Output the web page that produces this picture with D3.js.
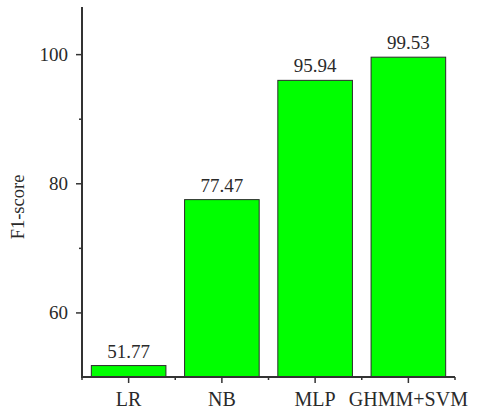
<!DOCTYPE html>
<html>
<head>
<meta charset="utf-8">
<script src="https://cdn.jsdelivr.net/npm/d3@7"></script>
<style>
  body { margin: 0; background: white; }
  svg text { font-family: "Liberation Serif", "Times New Roman", serif; fill: #2a2a2a; }
</style>
</head>
<body>
<div id="data-vis"></div>
<script>
//Chart data
const models = ["LR", "NB", "MLP", "GHMM+SVM"];
const f1Scores = [51.77, 77.47, 95.94, 99.53];
const majorTicks = [60, 80, 100];
const minorTicks = [70, 90];

//Size of svg
const w = 480;
const h = 416;

//Plot area edges
const plotLeft = 82, plotRight = 455, plotTop = 7, plotBottom = 377;

const svg = d3.select("#data-vis")
    .append("svg")
    .attr("width", w)
    .attr("height", h);

//Scales
const x = d3.scaleBand()
    .domain(models)
    .range([plotLeft, plotRight])
    .paddingInner(0.2)
    .paddingOuter(0.1);

const y = d3.scaleLinear()
    .domain([50, 107.3])
    .range([plotBottom, plotTop]);

const axisColour = "#333";

//Bars
svg.append("g")
    .selectAll("rect")
    .data(models)
    .enter()
    .append("rect")
    .attr("x", d => x(d))
    .attr("width", x.bandwidth())
    .attr("y", (d, i) => y(f1Scores[i]))
    .attr("height", (d, i) => y(50) - y(f1Scores[i]))
    .attr("fill", "#00ff00")
    .attr("stroke", "#2b2b2b")
    .attr("stroke-width", 1);

//Value labels
svg.append("g")
    .selectAll("text")
    .data(models)
    .enter()
    .append("text")
    .attr("x", d => x(d) + x.bandwidth() / 2)
    .attr("y", (d, i) => y(f1Scores[i]) - 8)
    .attr("text-anchor", "middle")
    .style("font-size", "19px")
    .text((d, i) => f1Scores[i].toFixed(2));

//Y axis (major ticks with labels)
const yAxis = svg.append("g")
    .attr("transform", `translate(${plotLeft},0)`)
    .call(d3.axisLeft(y).tickValues(majorTicks).tickSize(6).tickPadding(8));
yAxis.select(".domain").remove();
yAxis.selectAll("line").attr("stroke", axisColour).attr("stroke-width", 1.5);
yAxis.selectAll("text").style("font-size", "19px").attr("fill", "#2a2a2a");

//Y axis minor ticks
const yMinor = svg.append("g")
    .attr("transform", `translate(${plotLeft},0)`)
    .call(d3.axisLeft(y).tickValues(minorTicks).tickSize(3).tickFormat(""));
yMinor.select(".domain").remove();
yMinor.selectAll("line").attr("stroke", axisColour).attr("stroke-width", 1.5);

//Axis lines
svg.append("line")
    .attr("x1", plotLeft).attr("x2", plotLeft)
    .attr("y1", plotTop).attr("y2", plotBottom)
    .attr("stroke", axisColour).attr("stroke-width", 2);

svg.append("line")
    .attr("x1", plotLeft - 1).attr("x2", plotRight)
    .attr("y1", plotBottom).attr("y2", plotBottom)
    .attr("stroke", axisColour).attr("stroke-width", 2);

//X axis major ticks at category centres
svg.append("g")
    .selectAll("line")
    .data(models)
    .enter()
    .append("line")
    .attr("x1", d => x(d) + x.bandwidth() / 2)
    .attr("x2", d => x(d) + x.bandwidth() / 2)
    .attr("y1", plotBottom)
    .attr("y2", plotBottom + 6)
    .attr("stroke", axisColour)
    .attr("stroke-width", 1.5);

//X axis minor ticks between categories
const step = x.step();
svg.append("g")
    .selectAll("line")
    .data(d3.range(models.length + 1))
    .enter()
    .append("line")
    .attr("x1", k => plotLeft + k * step)
    .attr("x2", k => plotLeft + k * step)
    .attr("y1", plotBottom)
    .attr("y2", plotBottom + 3)
    .attr("stroke", axisColour)
    .attr("stroke-width", 1.5);

//Category labels
svg.append("g")
    .selectAll("text")
    .data(models)
    .enter()
    .append("text")
    .attr("x", d => x(d) + x.bandwidth() / 2)
    .attr("y", 406)
    .attr("text-anchor", "middle")
    .style("font-size", "20px")
    .text(d => d);

//Y axis title
svg.append("text")
    .attr("transform", "translate(24,207) rotate(-90)")
    .attr("text-anchor", "middle")
    .style("font-size", "18.5px")
    .text("F1-score");
</script>
</body>
</html>
